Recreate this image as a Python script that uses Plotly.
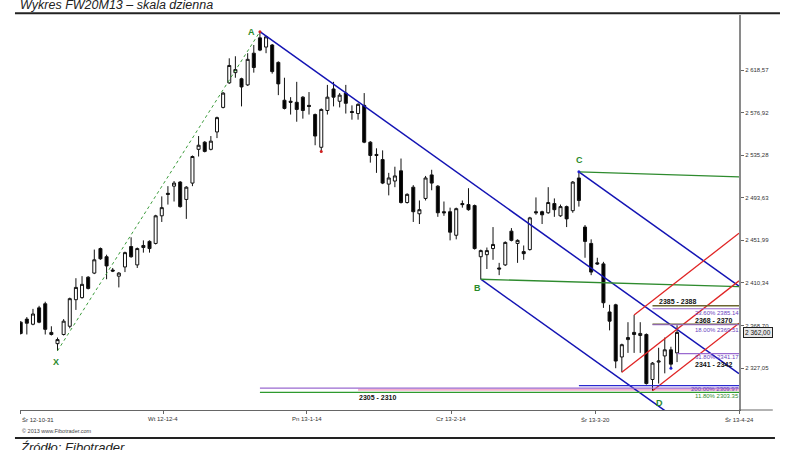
import plotly.graph_objects as go

# ---------------- data ----------------
tick_pos = [-0.1, 23.25, 46.63, 70.15, 93.63, 117.1]
tick_labels = ["Śr 12-10-31", "Wt 12-12-4", "Pn 13-1-14", "Cz 13-2-14", "Śr 13-3-20", "Śr 13-4-24"]
y_ticks = [2618.57, 2576.92, 2535.28, 2493.63, 2451.99, 2410.34, 2368.70, 2327.05]
y_tick_text = ["2 618,57", "2 576,92", "2 535,28", "2 493,63", "2 451,99", "2 410,34", "2 368,70", "2 327,05"]

opens = [2372, 2375, 2370, 2386, 2390, 2362, 2351, 2360, 2368, 2394,
         2396, 2416, 2420, 2444, 2436, 2423, 2417, 2426, 2446, 2428,
         2447, 2451, 2449, 2476, 2498, 2505, 2509, 2492, 2508, 2541,
         2548, 2541, 2558, 2582, 2606, 2616, 2610, 2604, 2635, 2650,
         2641, 2643, 2626, 2589, 2588, 2587, 2592, 2584, 2575, 2543,
         2579, 2600, 2588, 2596, 2578, 2576, 2584, 2548, 2536, 2531,
         2507, 2510, 2520, 2489, 2504, 2478, 2493, 2516, 2505, 2480,
         2480, 2457, 2488, 2487, 2486, 2436, 2438, 2444, 2425, 2428,
         2461, 2449, 2441, 2443, 2480, 2480, 2479, 2488, 2476, 2485,
         2481, 2513, 2465, 2449, 2430, 2429, 2382, 2389, 2338, 2355,
         2362, 2359, 2360, 2316, 2333, 2339, 2345, 2342]
highs = [2373, 2377, 2385, 2388, 2392, 2368, 2357, 2375, 2396, 2415,
         2417, 2417, 2443, 2445, 2438, 2425, 2421, 2441, 2455, 2445,
         2452, 2452, 2477, 2495, 2505, 2510, 2510, 2505, 2535, 2554,
         2549, 2554, 2573, 2597, 2630, 2632, 2611, 2635, 2643, 2656,
         2652, 2644, 2627, 2611, 2592, 2607, 2593, 2597, 2576, 2581,
         2604, 2607, 2596, 2604, 2584, 2586, 2596, 2549, 2542, 2540,
         2518, 2524, 2532, 2498, 2506, 2491, 2515, 2521, 2506, 2490,
         2484, 2484, 2491, 2503, 2487, 2443, 2445, 2465, 2430, 2451,
         2464, 2453, 2447, 2475, 2494, 2481, 2504, 2493, 2487, 2486,
         2510, 2519, 2467, 2453, 2435, 2431, 2389, 2390, 2351, 2372,
         2379, 2372, 2361, 2333, 2347, 2357, 2348, 2369]
lows = [2360, 2360, 2369, 2371, 2360, 2359, 2344, 2359, 2366, 2384,
        2395, 2404, 2419, 2433, 2414, 2421, 2406, 2421, 2435, 2425,
        2440, 2440, 2448, 2470, 2487, 2490, 2484, 2473, 2505, 2534,
        2538, 2540, 2552, 2581, 2605, 2611, 2583, 2603, 2616, 2637,
        2635, 2615, 2594, 2580, 2575, 2568, 2571, 2575, 2545, 2539,
        2575, 2583, 2582, 2576, 2570, 2570, 2547, 2528, 2518, 2507,
        2496, 2504, 2488, 2488, 2470, 2468, 2491, 2501, 2475, 2476,
        2452, 2453, 2484, 2481, 2443, 2414, 2424, 2433, 2418, 2427,
        2451, 2430, 2433, 2442, 2477, 2468, 2478, 2475, 2475, 2465,
        2479, 2485, 2435, 2418, 2428, 2386, 2364, 2327, 2323, 2342,
        2342, 2342, 2311, 2305, 2312, 2322, 2327, 2333]
closes = [2361, 2371, 2380, 2372, 2365, 2360, 2355, 2373, 2395, 2406,
          2409, 2405, 2433, 2434, 2427, 2422, 2420, 2440, 2436, 2444,
          2445, 2444, 2476, 2484, 2497, 2508, 2485, 2504, 2534, 2545,
          2539, 2549, 2572, 2596, 2623, 2619, 2602, 2629, 2621, 2638,
          2651, 2617, 2605, 2581, 2587, 2580, 2579, 2583, 2554, 2580,
          2592, 2592, 2594, 2586, 2577, 2585, 2548, 2535, 2535, 2508,
          2513, 2515, 2489, 2497, 2480, 2482, 2513, 2508, 2479, 2479,
          2460, 2483, 2487, 2482, 2444, 2442, 2442, 2448, 2424, 2450,
          2452, 2452, 2439, 2474, 2479, 2477, 2489, 2482, 2485, 2473,
          2509, 2491, 2451, 2421, 2429, 2391, 2373, 2334, 2350, 2357,
          2360, 2361, 2312, 2332, 2334, 2345, 2331, 2362]
last_price = 2362.00

# pivot bars (X, A, B, C, D) and trendline slopes (price per bar)
X_i, A_i, B_i, C_i, D_i = 6, 39, 75, 91, 103
blue_slope = -4.28
red_slope = 4.68
green_slope_C = -0.19
green_slope_B = -0.17
red_starts = [(100, "high"), (98, "low"), (103, "low")]

# fibonacci zones: (price, colour key, start bar)
zone_lines = [(2388, "olive", 103), (2385.14, "purple", 103),
              (2370, "olive", 103), (2369.51, "purple", 103),
              (2341.17, "purple", 107),
              (2309.97, "blue", 91), (2307.5, "purple", 39), (2303.35, "green", 39)]
zone_band = (2305, 2307, 55)
# (text, bar position, price of label centre)
zone_labels = [("2385 - 2388", 107.0, 2392.0),
               ("2368 - 2370", 112.9, 2373.2),
               ("2341 - 2342", 112.9, 2330.8),
               ("2305 - 2310", 58.1, 2297.9)]
# (text, price of label centre, colour)
pct_labels = [("23.60% 2385.14", 2381.3, "#6a3fc0"),
              ("18.00% 2369.51", 2364.4, "#6a3fc0"),
              ("61.80% 2341.17", 2338.3, "#6a3fc0"),
              ("200.00% 2309.97", 2306.2, "#6a3fc0"),
              ("11.80% 2303.35", 2299.8, "#2e8b2e")]

# ---------------- figure ----------------
BLUE = "#1414b4"
RED = "#e02525"
GREEN = "#2e8b2e"
COL = {"olive": "#6b6630", "purple": "#9a6ad0", "blue": "#2a2ad0", "green": "#2e9a2e"}
X_END = 117.1

xs = list(range(len(opens)))
fig = go.Figure()
fig.add_trace(go.Candlestick(
    x=xs, open=opens, high=highs, low=lows, close=closes,
    increasing=dict(fillcolor="white", line=dict(color="#111", width=1)),
    decreasing=dict(fillcolor="black", line=dict(color="#111", width=1)),
    whiskerwidth=0, showlegend=False, hoverinfo="skip"))

def add_line(x0, y0, x1, y1, color, width=1.3, dash=None):
    fig.add_trace(go.Scatter(x=[x0, x1], y=[y0, y1], mode="lines",
                             line=dict(color=color, width=width, dash=dash),
                             showlegend=False, hoverinfo="skip"))

# X-A dashed
add_line(X_i, lows[X_i], A_i, highs[A_i], "#3c9c3c", 1, "dot")
# blue channel
for (bi, by) in [(A_i, highs[A_i]), (B_i, lows[B_i]), (C_i, highs[C_i])]:
    add_line(bi, by, X_END, by + blue_slope * (X_END - bi), BLUE, 1.5)
# green lines
add_line(C_i, highs[C_i], X_END, highs[C_i] + green_slope_C * (X_END - C_i), GREEN, 1.3)
add_line(B_i, lows[B_i], X_END, lows[B_i] + green_slope_B * (X_END - B_i), GREEN, 1.3)
# red lines
for (ri, kind) in red_starts:
    ry = highs[ri] if kind == "high" else lows[ri]
    add_line(ri, ry, X_END, ry + red_slope * (X_END - ri), RED, 1.3)
# zone band
fig.add_shape(type="rect", xref="x", yref="y", x0=zone_band[2], x1=X_END,
              y0=zone_band[0], y1=zone_band[1], fillcolor="#f4b0cc", line=dict(width=0), layer="below")
# zone lines
for (p, c, s) in zone_lines:
    add_line(s, p, X_END, p, COL[c], 1.5 if c == "olive" else 1.2)

# small markers
fig.add_trace(go.Scatter(x=[A_i, 49], y=[highs[A_i], lows[49]], mode="markers",
                         marker=dict(color="#d02020", size=3), showlegend=False, hoverinfo="skip"))
fig.add_trace(go.Scatter(x=[C_i, 106], y=[highs[C_i], lows[106]], mode="markers",
                         marker=dict(color="#2020d0", size=3), showlegend=False, hoverinfo="skip"))

ann = []
# pivot labels
for (t, xi, yv, dx, dy) in [("A", A_i, highs[A_i], -8, 0), ("B", B_i, lows[B_i], -3, -9),
                            ("C", C_i, highs[C_i], 1, 12), ("D", D_i, lows[D_i], 7, -12),
                            ("X", X_i, lows[X_i], -2, -11)]:
    ann.append(dict(x=xi, y=yv, xref="x", yref="y", text="<b>%s</b>" % t, showarrow=False,
                    xshift=dx, yshift=dy, font=dict(family="Liberation Sans", size=9, color="#2a8a2a")))
for (t, xi, yv) in zone_labels:
    ann.append(dict(x=xi, y=yv, xref="x", yref="y", text="<b>%s</b>" % t, showarrow=False,
                    yanchor="middle", borderpad=0,
                    font=dict(family="Liberation Sans", size=7, color="#111")))
for (t, yv, c) in pct_labels:
    ann.append(dict(x=1, y=yv, xref="paper", yref="y", text=t, showarrow=False, xanchor="right",
                    yanchor="middle", xshift=1, borderpad=0,
                    font=dict(family="Liberation Sans", size=6, color=c)))
# x tick labels
for k, (p, t) in enumerate(zip(tick_pos, tick_labels)):
    ann.append(dict(x=p, y=0, xref="x", yref="paper", text=t, showarrow=False,
                    xanchor="left" if k == 0 else "center", yanchor="top", yshift=-4,
                    font=dict(family="Liberation Sans", size=6, color="#333")))
# last price box
ann.append(dict(x=1, y=last_price, xref="paper", yref="y", text="2 362,00", showarrow=False,
                xanchor="left", xshift=4, bgcolor="#e8e8e8", bordercolor="#222", borderwidth=1, borderpad=1,
                font=dict(family="Liberation Sans", size=6.5, color="#111")))
# title / footer
ann.append(dict(x=-0.003, y=1.026, xref="paper", yref="paper", text="<i>Wykres FW20M13 – skala dzienna</i>",
                showarrow=False, xanchor="left", yanchor="middle",
                font=dict(family="Liberation Sans", size=12.5, color="#222")))
ann.append(dict(x=0, y=-0.052, xref="paper", yref="paper", text="© 2013 www.Fibotrader.com",
                showarrow=False, xanchor="left", yanchor="middle",
                font=dict(family="Liberation Sans", size=5.5, color="#444")))
ann.append(dict(x=-0.003, y=-0.095, xref="paper", yref="paper", text="<i>Źródło: Fibotrader</i>",
                showarrow=False, xanchor="left", yanchor="middle",
                font=dict(family="Liberation Sans", size=13, color="#222")))

shapes = [
    dict(type="line", xref="paper", yref="paper", x0=-0.007, x1=1.057, y0=1.0043, y1=1.0043,
         line=dict(color="#222", width=2)),
    dict(type="line", xref="paper", yref="paper", x0=-0.007, x1=1.05, y0=-0.0709, y1=-0.0709,
         line=dict(color="#222", width=2)),
    dict(type="line", xref="paper", yref="paper", x0=1, x1=1.047, y0=0, y1=0,
         line=dict(color="#666", width=1)),
]
for s in shapes:
    fig.add_shape(**s)

fig.update_layout(
    width=800, height=450, margin=dict(l=20, r=61, t=15, b=40),
    paper_bgcolor="white", plot_bgcolor="white", showlegend=False,
    annotations=ann,
    xaxis=dict(range=[-0.114, X_END], showgrid=False, zeroline=False, showline=True,
               linecolor="#666", linewidth=1, ticks="outside", ticklen=3, tickcolor="#666",
               tickvals=tick_pos, showticklabels=False, rangeslider=dict(visible=False), fixedrange=True),
    yaxis=dict(range=[2286.15, 2672.34], side="right", showgrid=False, zeroline=False, showline=True,
               linecolor="#8a8a8a", linewidth=2, ticks="outside", ticklen=3, tickcolor="#666",
               tickvals=y_ticks, ticktext=y_tick_text,
               tickfont=dict(family="Liberation Sans", size=6, color="#333"), fixedrange=True),
)
fig.write_html("out.html", config={"displayModeBar": False, "staticPlot": True},
               post_script="document.body.style.margin='0px';document.body.style.overflow='hidden';")
